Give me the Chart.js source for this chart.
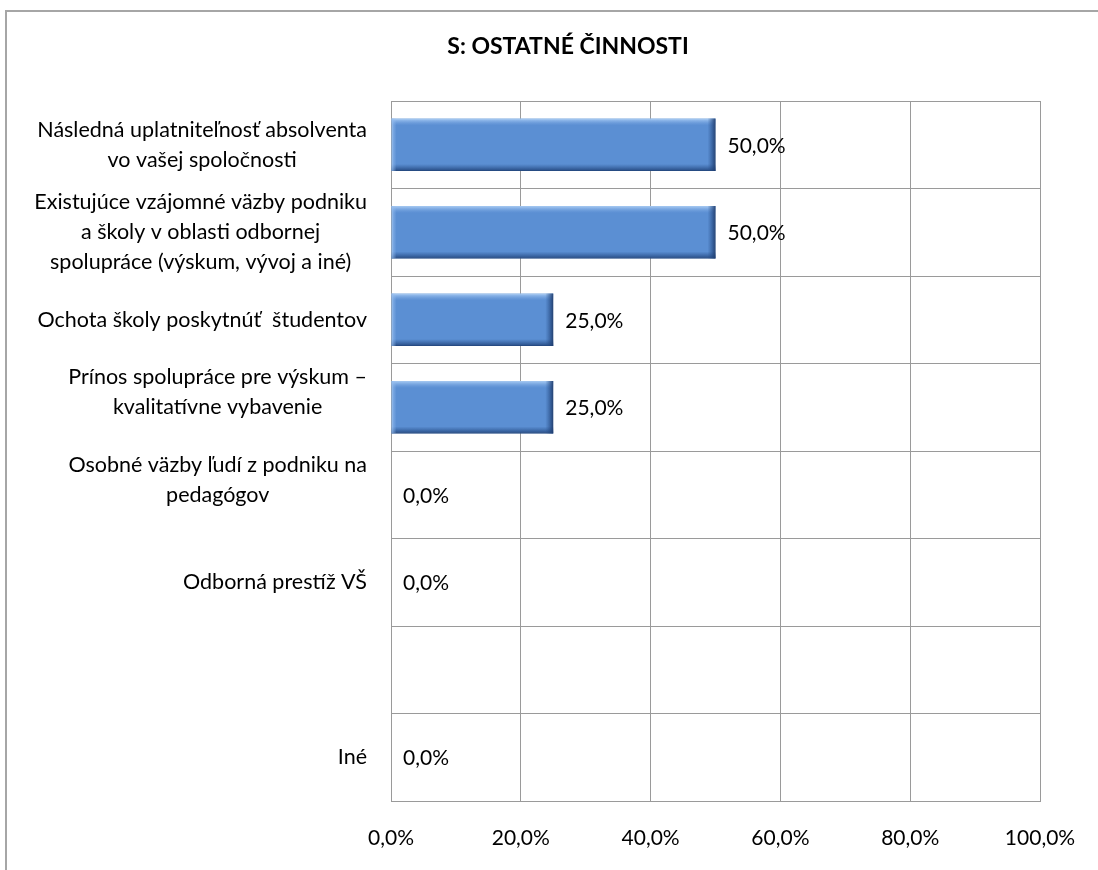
<!DOCTYPE html>
<html>
<head>
<meta charset="utf-8">
<script src="https://cdn.jsdelivr.net/npm/chart.js@4.4.0/dist/chart.umd.min.js"></script>
<style>
    html, body { margin: 0; padding: 0; background: #fff; overflow: hidden; }
    #wrap { position: relative; width: 1136px; height: 870px; }
</style>
</head>
<body>
<div id="wrap"><canvas id="chart" width="1136" height="870"></canvas></div>
<script>
// Categories (multi-line, as in the original labels)
const categories = [
    ['Následná uplatniteľnosť absolventa', 'vo vašej spoločnosti'],
    ['Existujúce vzájomné väzby podniku', 'a školy v oblasti odbornej', 'spolupráce (výskum, vývoj a iné)'],
    ['Ochota školy poskytnúť  študentov'],
    ['Prínos spolupráce pre výskum –', 'kvalitatívne vybavenie', ''],
    ['Osobné väzby ľudí z podniku na', 'pedagógov', ''],
    ['Odborná prestíž VŠ'],
    [''],
    ['Iné']
];

// Share of answers, percent (null = empty row)
const shares = [50, 50, 25, 25, 0, 0, null, 0];

const titleText = 'S: OSTATNÉ ČINNOSTI';
const FONT = 'Lato, "Open Sans", sans-serif';

function pct(v) {
    return v.toFixed(1).replace('.', ',') + '%';
}

// Outer frame of the chart (extends past the picture edges)
const framePlugin = {
    id: 'frame',
    beforeDraw(chart) {
        const c = chart.ctx;
        c.save();
        c.fillStyle = '#fff';
        c.fillRect(0, 0, chart.width, chart.height);
        c.strokeStyle = '#a6a6a6';
        c.lineWidth = 2;
        c.beginPath();
        c.moveTo(6, chart.height);
        c.lineTo(6, 11);
        c.lineTo(chart.width, 11);
        c.stroke();
        c.restore();
    }
};

// 3D-ish bevel on the bars
const bevelPlugin = {
    id: 'bevel',
    afterDatasetsDraw(chart) {
        const c = chart.ctx;
        c.save();
        chart.getDatasetMeta(0).data.forEach((bar, i) => {
            if (!shares[i]) return;
            const { x, y, base, height } = bar.getProps(['x', 'y', 'base', 'height'], true);
            const top = y - height / 2;
            const bottom = y + height / 2;
            const w = x - base;

            let g = c.createLinearGradient(0, top, 0, top + 7);
            g.addColorStop(0, 'rgba(170,205,245,1)');
            g.addColorStop(1, 'rgba(120,165,225,0)');
            c.fillStyle = g;
            c.fillRect(base, top, w, 7);

            g = c.createLinearGradient(0, bottom - 7, 0, bottom);
            g.addColorStop(0, 'rgba(40,80,140,0)');
            g.addColorStop(1, 'rgba(35,70,125,0.95)');
            c.fillStyle = g;
            c.fillRect(base, bottom - 7, w, 7);

            g = c.createLinearGradient(x - 8, 0, x, 0);
            g.addColorStop(0, 'rgba(40,80,140,0)');
            g.addColorStop(1, 'rgba(30,60,110,0.95)');
            c.fillStyle = g;
            c.fillRect(x - 8, top, 8, height);

            g = c.createLinearGradient(base, 0, base + 5, 0);
            g.addColorStop(0, 'rgba(150,190,240,0.8)');
            g.addColorStop(1, 'rgba(150,190,240,0)');
            c.fillStyle = g;
            c.fillRect(base, top, 5, height);
        });
        c.restore();
    }
};

// Value labels to the right of each bar
const valueLabelPlugin = {
    id: 'valueLabels',
    afterDatasetsDraw(chart) {
        const c = chart.ctx;
        c.save();
        c.font = '21px ' + FONT;
        c.fillStyle = '#000';
        c.textAlign = 'left';
        c.textBaseline = 'middle';
        chart.getDatasetMeta(0).data.forEach((bar, i) => {
            if (shares[i] === null) return;
            c.fillText(pct(shares[i]), bar.x + 12, bar.y + 1);
        });
        c.restore();
    }
};

// Category labels: block right-aligned, lines centred inside the block
const categoryLabelPlugin = {
    id: 'categoryLabels',
    afterDraw(chart) {
        const c = chart.ctx;
        const yScale = chart.scales.y;
        const right = yScale.right - 24;
        const lineH = 30;
        c.save();
        c.font = '21.5px ' + FONT;
        c.fillStyle = '#000';
        c.textAlign = 'center';
        c.textBaseline = 'middle';
        categories.forEach((lines, i) => {
            const cy = yScale.getPixelForValue(i);
            const w = Math.max(...lines.map(l => c.measureText(l).width));
            const cx = right - w / 2;
            lines.forEach((line, k) => {
                c.fillText(line, cx, cy + (k - (lines.length - 1) / 2) * lineH);
            });
        });
        c.restore();
    }
};

const ctx = document.getElementById('chart');

new Chart(ctx, {
    type: 'bar',
    data: {
        labels: categories,
        datasets: [{
            data: shares,
            backgroundColor: '#5B8FD3',
            borderColor: '#3E6CA8',
            borderWidth: (c) => (shares[c.dataIndex] ? 1 : 0),
            borderSkipped: false,
            barPercentage: 0.6,
            categoryPercentage: 1
        }]
    },
    options: {
        indexAxis: 'y',
        responsive: false,
        animation: false,
        layout: { padding: { left: 96, right: 96, top: 0, bottom: 0 } },
        plugins: {
            legend: { display: false },
            tooltip: { enabled: false },
            title: {
                display: true,
                text: titleText,
                color: '#000',
                font: { family: FONT, size: 23, weight: 'bold', lineHeight: 1.2 },
                padding: { top: 33, bottom: 40.4 }
            }
        },
        scales: {
            x: {
                min: 0,
                max: 100,
                ticks: {
                    stepSize: 20,
                    color: '#000',
                    padding: 25,
                    font: { family: FONT, size: 21 },
                    callback: (v) => pct(v)
                },
                grid: { color: '#9a9a9a', drawTicks: false },
                border: { color: '#9a9a9a' },
                afterFit(scale) { scale.height = 69; }
            },
            y: {
                ticks: { display: false },
                grid: { color: '#9a9a9a', drawTicks: false, offset: true },
                border: { color: '#9a9a9a' },
                afterFit(scale) { scale.width = 295; }
            }
        }
    },
    plugins: [framePlugin, bevelPlugin, valueLabelPlugin, categoryLabelPlugin]
});
</script>
</body>
</html>
